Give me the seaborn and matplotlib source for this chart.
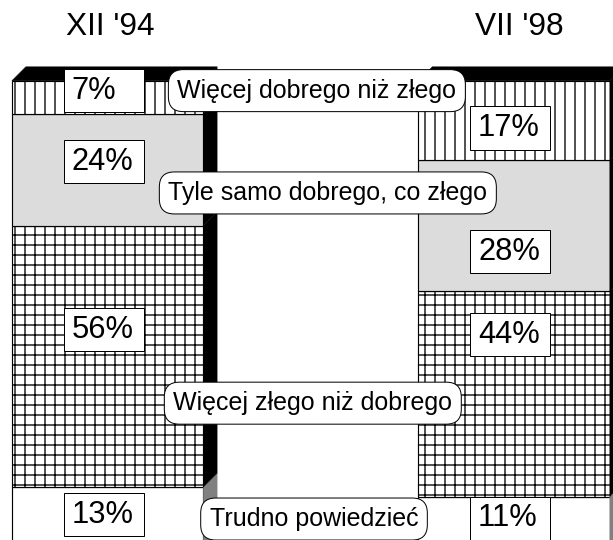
import matplotlib
matplotlib.use("Agg")
import matplotlib.pyplot as plt
import seaborn as sns
import numpy as np
from matplotlib.patches import Polygon, Rectangle

# ---- data ----
categories = ["XII '94", "VII '98"]
segment_names = ["Trudno powiedzieć", "Więcej złego niż dobrego",
                 "Tyle samo dobrego, co złego", "Więcej dobrego niż złego"]
v_trudno = [13, 11]
v_zlego = [56, 44]
v_tyle = [24, 28]
v_dobrego = [7, 17]

# ---- styles / layout ----
values = [v_trudno, v_zlego, v_tyle, v_dobrego]
face = ["white", "white", "#dcdcdc", "white"]
hatches = [None, "+", None, "|"]
side_col = ["#808080", "black", "black", "black"]
pct_label_y = [[7.1, 6.4], [46.7, 45.6], [82.7, 63.4], [97.9, 89.9]]
name_pos = [(0.508, 6.2), (0.505, 31.0), (0.542, 76.0), (0.515, 97.9)]

DPI = 60
sns.set_theme(style="white")
plt.rcParams['font.family'] = ['Liberation Sans', 'DejaVu Sans']
plt.rcParams['hatch.linewidth'] = 1.6
plt.rcParams['hatch.color'] = 'black'

fig = plt.figure(figsize=(613 / DPI, 540 / DPI), dpi=DPI)
fig.patch.set_facecolor("white")
ax = fig.add_axes([0, 0, 1, 1])

width = 0.471
bottom = np.zeros(len(categories))
for vals, fc, h in zip(values, face, hatches):
    sns.barplot(x=categories, y=vals, bottom=bottom.copy(), color=fc, hatch=h,
                edgecolor="black", linewidth=1.4, saturation=1, width=width,
                errorbar=None, ax=ax, zorder=2)
    bottom += np.array(vals)

# 3D depth
dx, dy = 0.0344, 3.0
centers = np.arange(len(categories))
cum = np.zeros(len(categories))
for vals, sc in zip(values, side_col):
    for i, c in enumerate(centers):
        x1 = c + width / 2
        b, t = cum[i], cum[i] + vals[i]
        ax.add_patch(Polygon([(x1, b), (x1 + dx, b + dy), (x1 + dx, t + dy), (x1, t)],
                             closed=True, fc=sc, ec=sc, lw=0.3, zorder=3))
    cum += np.array(vals)
for i, c in enumerate(centers):
    x0, x1 = c - width / 2, c + width / 2
    top = cum[i]
    ax.add_patch(Polygon([(x0, top), (x0 + dx, top + dy), (x1 + dx, top + dy), (x1, top)],
                         closed=True, fc="black", ec="black", lw=0.5, zorder=3))

# percent labels in fixed-size boxes
box_w, box_h = 80 / 406.5, 43 / 4.67
for vals, ys in zip(values, pct_label_y):
    for i, c in enumerate(centers):
        left = c - 0.108
        ax.add_patch(Rectangle((left, ys[i] - box_h / 2), box_w, box_h,
                               fc="white", ec="black", lw=1.2, zorder=5))
        ax.text(left + 8 / 406.5, ys[i], f"{vals[i]}%", ha="left", va="center",
                fontsize=37, color="black", zorder=6)

# category names
for name, (x, y) in zip(segment_names, name_pos):
    ax.text(x, y, name, ha="center", va="center", fontsize=30, color="black", zorder=10,
            bbox=dict(boxstyle="round,pad=0.36,rounding_size=0.6", fc="white", ec="black", lw=1.2))

# titles
title_x = [110 / 613, 519 / 613]
for cat, tx in zip(categories, title_x):
    fig.text(tx, 1 - 27 / 540, cat, ha="center", va="center", fontsize=38, color="black")

ax.set_xlim(-0.2645, 1.2435)
ax.set_ylim(1.71, 117.3)
ax.set_axis_off()

fig.savefig("out.png", dpi=DPI, facecolor="white")
